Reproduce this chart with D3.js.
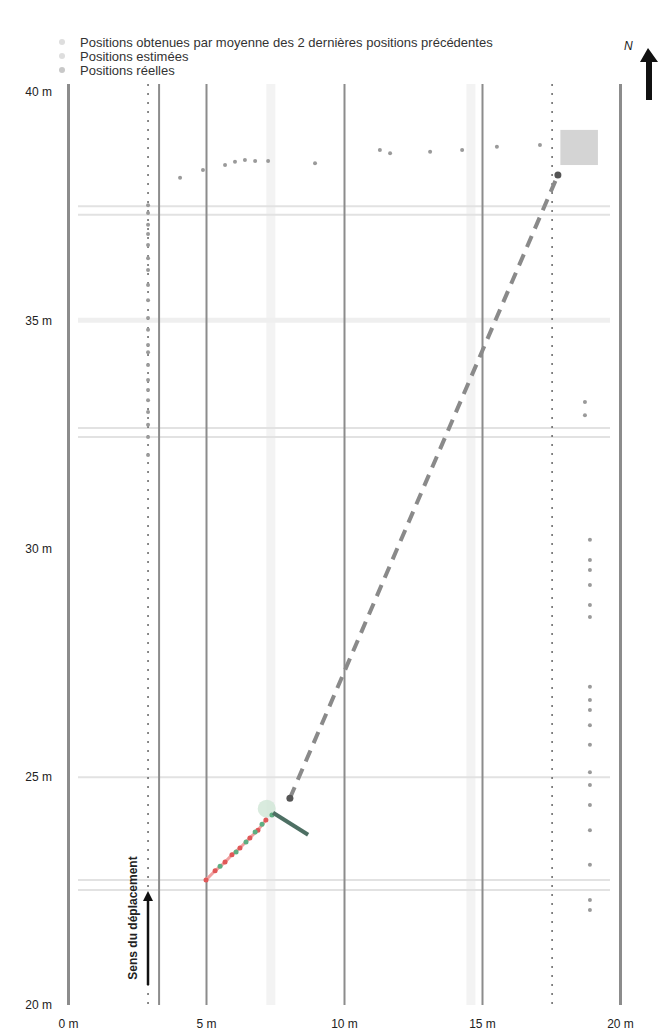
<!DOCTYPE html>
<html>
<head>
<meta charset="utf-8">
<script src="https://cdnjs.cloudflare.com/ajax/libs/d3/7.8.5/d3.min.js"></script>
<style>
  body { margin: 0; background: #fff; }
  text { font-family: "Liberation Sans", "DejaVu Sans", sans-serif; }
</style>
</head>
<body>
<div id="my_dataviz"></div>
<script>

// tick labels
var xTicks = [0, 5, 10, 15, 20];
var xTickLabels = ["0 m", "5 m", "10 m", "15 m", "20 m"];
var yTicks = [40, 35, 30, 25, 20];
var yTickLabels = ["40 m", "35 m", "30 m", "25 m", "20 m"];

// legend entries
var legendLabels = [
  "Positions obtenues par moyenne des 2 dernières positions précédentes",
  "Positions estimées",
  "Positions réelles"
];

// guide lines (in metres)
var guideRows = [37.5, 37.31, 35.0, 32.64, 32.44, 24.99, 22.74, 22.52];
var laneCol = 3.3;
var lightCols = [7.35, 14.6];
var dottedCols = [2.9, 17.54];

// positions obtenues par moyenne (x, y)
var meanTop = [
  [4.06, 38.12], [4.89, 38.29], [5.69, 38.40], [6.05, 38.47], [6.41, 38.51],
  [6.78, 38.49], [7.25, 38.49], [8.95, 38.44], [11.30, 38.73], [11.67, 38.66],
  [13.12, 38.69], [14.28, 38.73], [15.54, 38.80], [17.10, 38.84]
];
var meanLeft = [
  [2.9, 37.52], [2.9, 37.35], [2.9, 37.09], [2.9, 36.89], [2.9, 36.65],
  [2.9, 36.36], [2.9, 36.10], [2.9, 35.77], [2.9, 35.44], [2.9, 35.05],
  [2.9, 34.79], [2.9, 34.46], [2.9, 34.30], [2.9, 34.02], [2.9, 33.69],
  [2.9, 33.47], [2.9, 33.25], [2.9, 32.99], [2.9, 32.71], [2.9, 32.44],
  [2.9, 32.05]
];
var meanRight = [
  [18.73, 33.21], [18.73, 32.92],
  [18.91, 30.19], [18.91, 29.75], [18.91, 29.53], [18.91, 29.20], [18.91, 28.76],
  [18.91, 28.50], [18.91, 26.97], [18.91, 26.68], [18.91, 26.46], [18.91, 26.13],
  [18.91, 25.70], [18.91, 25.10], [18.91, 24.82], [18.91, 24.38], [18.91, 23.83],
  [18.91, 23.07], [18.91, 22.30], [18.91, 22.08]
];
var meanBox = [17.84, 38.40, 19.2, 39.17];

// positions estimées
var estRed = [
  [5.00, 22.74], [5.33, 22.94], [5.69, 23.13], [5.94, 23.29],
  [6.23, 23.44], [6.59, 23.66], [6.88, 23.83], [7.17, 24.05]
];
var estGreen = [
  [5.51, 23.04], [6.09, 23.35], [6.45, 23.57], [6.78, 23.79],
  [7.03, 23.96], [7.39, 24.16]
];
var estTail = [[7.43, 24.21], [8.70, 23.73]];

// positions réelles
var realPath = [[8.04, 24.53], [17.75, 38.18]];

var width = 664, height = 1036;

var x = d3.scaleLinear().domain([0, 20]).range([68, 620]);
var y = d3.scaleLinear().domain([20, 40]).range([1005, 92]);

var svg = d3.select("#my_dataviz")
  .append("svg")
  .attr("width", width)
  .attr("height", height);

// light vertical bands
svg.selectAll(".lightcol")
  .data(lightCols)
  .enter()
  .append("line")
  .attr("x1", function(d) { return x(d); })
  .attr("x2", function(d) { return x(d); })
  .attr("y1", y(40) - 8)
  .attr("y2", y(20))
  .style("stroke", "#f3f3f3")
  .style("stroke-width", 9);

// horizontal guide rows
svg.selectAll(".row")
  .data(guideRows)
  .enter()
  .append("line")
  .attr("x1", x(0) + 10)
  .attr("x2", x(20) - 10)
  .attr("y1", function(d) { return y(d); })
  .attr("y2", function(d) { return y(d); })
  .style("stroke", function(d) { return d === 35 ? "#efefef" : "#e2e2e2"; })
  .style("stroke-width", function(d) { return d === 35 ? 5 : 2; });

// vertical grid from the x axis
svg.append("g")
  .attr("transform", "translate(0," + y(20) + ")")
  .call(d3.axisBottom(x).tickValues(xTicks).tickSize(-(y(20) - y(40) + 8))
        .tickFormat(function(d, i) { return xTickLabels[i]; }))
  .call(function(g) { g.select(".domain").remove(); })
  .call(function(g) {
    g.selectAll(".tick line")
      .style("stroke", "#8c8c8c")
      .style("stroke-width", function(d) { return (d === 0 || d === 20) ? 3 : 2; });
    g.selectAll(".tick text")
      .attr("y", 14)
      .style("font-size", "12px")
      .style("fill", "#222");
  });

// lane line
svg.append("line")
  .attr("x1", x(laneCol)).attr("x2", x(laneCol))
  .attr("y1", y(40) - 8).attr("y2", y(20))
  .style("stroke", "#8c8c8c")
  .style("stroke-width", 2);

// dotted columns
svg.selectAll(".dotcol")
  .data(dottedCols)
  .enter()
  .append("line")
  .attr("x1", function(d) { return x(d); })
  .attr("x2", function(d) { return x(d); })
  .attr("y1", y(40) - 8)
  .attr("y2", y(20))
  .style("stroke", "#666")
  .style("stroke-width", 1.5)
  .style("stroke-dasharray", "2,7");

// y axis labels
svg.append("g")
  .attr("transform", "translate(52,0)")
  .call(d3.axisLeft(y).tickValues(yTicks).tickSize(0)
        .tickFormat(function(d, i) { return yTickLabels[i]; }))
  .call(function(g) { g.select(".domain").remove(); })
  .selectAll("text")
  .attr("x", 0)
  .style("font-size", "12px")
  .style("fill", "#222");

// mean positions
svg.append("rect")
  .attr("x", x(meanBox[0]))
  .attr("y", y(meanBox[3]))
  .attr("width", x(meanBox[2]) - x(meanBox[0]))
  .attr("height", y(meanBox[1]) - y(meanBox[3]))
  .style("fill", "#d4d4d4");

var meanAll = meanTop.concat(meanLeft, meanRight);
svg.selectAll(".mean")
  .data(meanAll)
  .enter()
  .append("circle")
  .attr("cx", function(d) { return x(d[0]); })
  .attr("cy", function(d) { return y(d[1]); })
  .attr("r", 2)
  .style("fill", "#9a9a9a");

// real positions, dashed
var line = d3.line()
  .x(function(d) { return x(d[0]); })
  .y(function(d) { return y(d[1]); });

svg.append("path")
  .datum(realPath)
  .attr("d", line)
  .style("fill", "none")
  .style("stroke", "#8a8a8a")
  .style("stroke-width", 4)
  .style("stroke-dasharray", "12,8");

svg.selectAll(".realpt")
  .data(realPath)
  .enter()
  .append("circle")
  .attr("cx", function(d) { return x(d[0]); })
  .attr("cy", function(d) { return y(d[1]); })
  .attr("r", 3.5)
  .style("fill", "#555");

// estimated positions
svg.append("circle")
  .attr("cx", x(7.2)).attr("cy", y(24.3))
  .attr("r", 9)
  .style("fill", "#cfe6d6")
  .style("opacity", 0.8);

svg.append("path")
  .datum(estRed)
  .attr("d", line)
  .style("fill", "none")
  .style("stroke", "#f0a0a0")
  .style("stroke-width", 3);

svg.selectAll(".red")
  .data(estRed)
  .enter()
  .append("circle")
  .attr("cx", function(d) { return x(d[0]); })
  .attr("cy", function(d) { return y(d[1]); })
  .attr("r", 2.5)
  .style("fill", "#e05858");

svg.selectAll(".green")
  .data(estGreen)
  .enter()
  .append("circle")
  .attr("cx", function(d) { return x(d[0]); })
  .attr("cy", function(d) { return y(d[1]); })
  .attr("r", 2.5)
  .style("fill", "#5fae82");

svg.append("path")
  .datum(estTail)
  .attr("d", line)
  .style("fill", "none")
  .style("stroke", "#4d6f63")
  .style("stroke-width", 4);

// legend
var legend = svg.selectAll(".legend")
  .data(legendLabels)
  .enter()
  .append("g")
  .attr("transform", function(d, i) { return "translate(62," + (42 + i * 14) + ")"; });

legend.append("circle")
  .attr("r", 3)
  .style("fill", function(d, i) { return i === 2 ? "#c8c8c8" : "#dedede"; });

legend.append("text")
  .attr("x", 18)
  .attr("dy", "0.35em")
  .style("font-size", "13px")
  .style("fill", "#333")
  .text(function(d) { return d; });

// direction of travel
svg.append("text")
  .attr("transform", "translate(137,918) rotate(-90)")
  .attr("text-anchor", "middle")
  .style("font-size", "12px")
  .style("font-weight", "bold")
  .style("fill", "#222")
  .text("Sens du déplacement");

svg.append("defs").append("marker")
  .attr("id", "head")
  .attr("viewBox", "0 0 10 10")
  .attr("refX", 5).attr("refY", 5)
  .attr("markerWidth", 4).attr("markerHeight", 4)
  .attr("orient", "auto")
  .append("path")
  .attr("d", "M0,0L10,5L0,10z")
  .style("fill", "#111");

svg.append("line")
  .attr("x1", 148).attr("x2", 148)
  .attr("y1", 985).attr("y2", 896)
  .attr("marker-end", "url(#head)")
  .style("stroke", "#111")
  .style("stroke-width", 2.5);

// north sign
svg.append("text")
  .attr("x", 624).attr("y", 50)
  .style("font-size", "12px")
  .style("font-style", "italic")
  .style("fill", "#222")
  .text("N");
svg.append("path")
  .attr("d", "M648,48 L658,62 L652,62 L652,100 L646,100 L646,62 L640,62 Z")
  .style("fill", "#111");

</script>
</body>
</html>
